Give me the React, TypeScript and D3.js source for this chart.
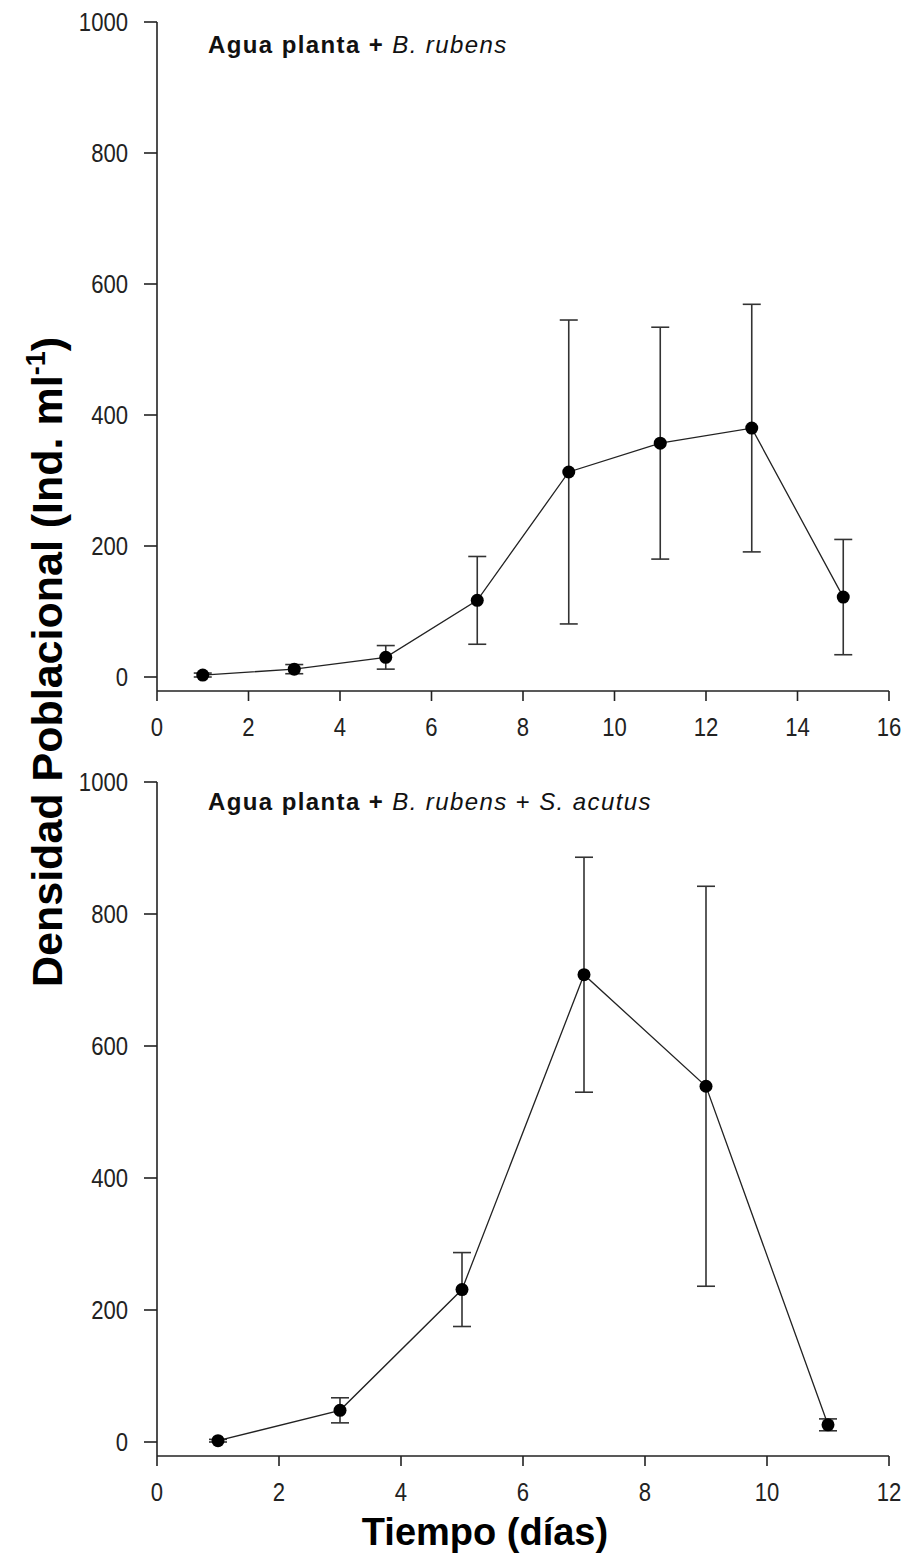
import React from "react";
import * as d3 from "d3";

// days of sampling and densities (Ind. ml-1), mean +- error
const topDays = [1, 3, 5, 7, 9, 11, 13, 15];
const topMeans = [3, 12, 30, 117, 313, 357, 380, 122];
const topErrors = [3, 7, 18, 67, 232, 177, 189, 88];

const bottomDays = [1, 3, 5, 7, 9, 11];
const bottomMeans = [2, 48, 231, 708, 539, 26];
const bottomErrors = [2, 19, 56, 178, 303, 9];

const yTicks = [0, 200, 400, 600, 800, 1000];
const topXTicks = [0, 2, 4, 6, 8, 10, 12, 14, 16];
const bottomXTicks = [0, 2, 4, 6, 8, 10, 12];

const FONT = "'Liberation Sans', Arial, sans-serif";
const LEFT = 157;
const RIGHT = 889;

function TickLabel({ x, y, text, anchor }) {
  return (
    <g transform={"translate(" + x + "," + y + ")"}>
      <text
        transform="scale(0.85,1)"
        textAnchor={anchor}
        fontFamily={FONT}
        fontSize={26}
        fill="#222"
      >
        {text}
      </text>
    </g>
  );
}

function Panel(props) {
  const { days, means, errors, xMax, xTicks, top, zero, children } = props;
  const x = d3.scaleLinear().domain([0, xMax]).range([LEFT, RIGHT]);
  const y = d3.scaleLinear().domain([0, 1000]).range([zero, top]);
  const axisY = zero + 14;

  const line = d3
    .line<number>()
    .x((d, i) => x(days[i]))
    .y(d => y(d));

  return (
    <g>
      {/* axes */}
      <line x1={LEFT} x2={LEFT} y1={y(1000)} y2={axisY} stroke="#222" strokeWidth={1.6} />
      <line x1={LEFT} x2={x(xMax)} y1={axisY} y2={axisY} stroke="#222" strokeWidth={1.6} />
      {yTicks.map(t => (
        <g key={"y" + t}>
          <line x1={LEFT - 13} x2={LEFT} y1={y(t)} y2={y(t)} stroke="#222" strokeWidth={1.6} />
          <TickLabel x={128} y={y(t) + 9} text={t} anchor="end" />
        </g>
      ))}
      {xTicks.map(t => (
        <g key={"x" + t}>
          <line x1={x(t)} x2={x(t)} y1={axisY} y2={axisY + 10} stroke="#222" strokeWidth={1.6} />
          <TickLabel x={x(t)} y={axisY + 45} text={t} anchor="middle" />
        </g>
      ))}

      {/* error bars */}
      {days.map((d, i) => (
        <g key={"e" + d} stroke="#333" strokeWidth={1.6}>
          <line x1={x(d)} x2={x(d)} y1={y(means[i] + errors[i])} y2={y(means[i] - errors[i])} />
          <line x1={x(d) - 9} x2={x(d) + 9} y1={y(means[i] + errors[i])} y2={y(means[i] + errors[i])} />
          <line x1={x(d) - 9} x2={x(d) + 9} y1={y(means[i] - errors[i])} y2={y(means[i] - errors[i])} />
        </g>
      ))}

      <path d={line(means)} fill="none" stroke="#222" strokeWidth={1.3} />
      {days.map((d, i) => (
        <circle key={"c" + d} cx={x(d)} cy={y(means[i])} r={6.5} fill="#000" />
      ))}
      {children}
    </g>
  );
}

export default function App() {
  return (
    <svg
      width={904}
      height={1559}
      style={{ position: "absolute", left: 0, top: 0, background: "#fff" }}
    >
      <Panel days={topDays} means={topMeans} errors={topErrors} xMax={16} xTicks={topXTicks} top={22} zero={677}>
        <text x={208} y={53} fontFamily={FONT} fontSize={24} letterSpacing={1.4} fill="#111">
          <tspan fontWeight="bold">Agua planta + </tspan>
          <tspan fontStyle="italic">B. rubens</tspan>
        </text>
      </Panel>
      <Panel days={bottomDays} means={bottomMeans} errors={bottomErrors} xMax={12} xTicks={bottomXTicks} top={782} zero={1442}>
        <text x={208} y={810} fontFamily={FONT} fontSize={24} letterSpacing={1.4} fill="#111">
          <tspan fontWeight="bold">Agua planta + </tspan>
          <tspan fontStyle="italic">B. rubens</tspan>
          <tspan> + </tspan>
          <tspan fontStyle="italic">S. acutus</tspan>
        </text>
      </Panel>

      <text
        transform="translate(62,662) rotate(-90)"
        textAnchor="middle"
        fontFamily={FONT}
        fontWeight="bold"
        fontSize={43}
        fill="#000"
      >
        Densidad Poblacional (Ind. ml
        <tspan fontSize={27} dy={-17}>-1</tspan>
        <tspan dy={17}>)</tspan>
      </text>
      <text
        x={485}
        y={1545}
        textAnchor="middle"
        fontFamily={FONT}
        fontWeight="bold"
        fontSize={38}
        fill="#000"
      >
        Tiempo (días)
      </text>
    </svg>
  );
}
